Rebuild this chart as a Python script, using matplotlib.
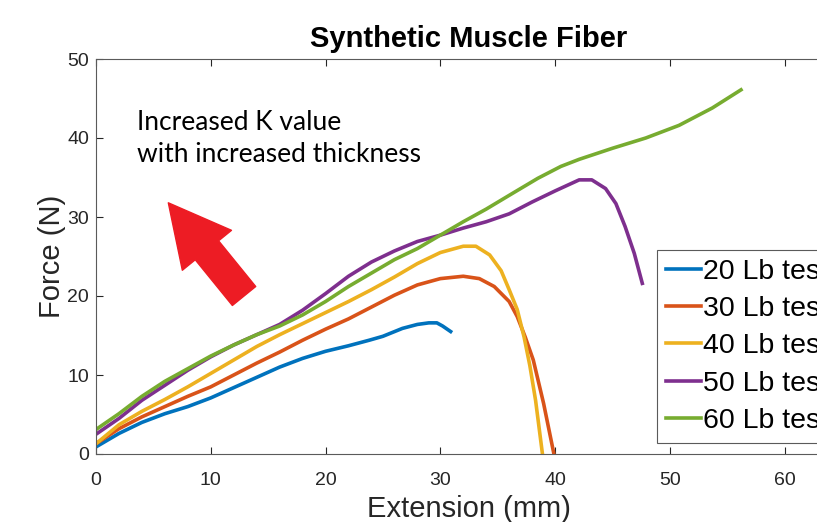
# Synthetic muscle fiber force / extension curves
import matplotlib.pyplot as plt
import numpy as np

# data (extension mm, force N)
x20 = [0, 2, 4, 6, 8, 10, 12, 14, 16, 18, 20, 22, 23.8, 25, 26.7, 28, 29, 29.7, 30.2, 30.9]
y20 = [0.9, 2.6, 4.0, 5.1, 6.0, 7.1, 8.4, 9.7, 11.0, 12.1, 13.0, 13.7, 14.4, 14.9, 15.9, 16.4, 16.6, 16.6, 16.2, 15.5]

x30 = [0, 2, 4, 6, 8, 10, 12, 14, 16, 18, 20, 22, 24, 26, 28, 30, 32, 33.4, 34.7,
       36.0, 36.7, 37.4, 38.1, 39.0, 39.9, 40.1]
y30 = [1.3, 3.2, 4.7, 6.0, 7.3, 8.5, 10.0, 11.5, 12.9, 14.4, 15.8, 17.1, 18.6, 20.1, 21.4, 22.2, 22.5, 22.2, 21.2,
       19.3, 17.4, 14.8, 11.9, 6.4, 0.0, -1.0]

x40 = [0, 2, 4, 6, 8, 10, 12, 14, 16, 18, 20, 22, 24, 26, 28, 30, 32, 33.1, 34.3,
       35.3, 36.0, 36.7, 37.3, 37.8, 38.3, 38.9, 39.0]
y40 = [1.3, 3.7, 5.4, 6.9, 8.5, 10.2, 11.9, 13.6, 15.1, 16.5, 17.9, 19.3, 20.8, 22.4, 24.1, 25.5, 26.3, 26.3, 25.2,
       23.2, 20.8, 18.3, 14.8, 11.2, 6.8, 0.0, -1.0]

x50 = [0, 2, 4, 6, 8, 10, 12, 14, 16, 18, 20, 22, 24, 26, 28, 30, 32, 34, 36, 38, 40,
       41.2, 42.1, 43.2, 44.4, 45.3, 46.1, 46.9, 47.6]
y50 = [2.5, 4.5, 6.8, 8.7, 10.6, 12.3, 13.8, 15.1, 16.4, 18.2, 20.3, 22.5, 24.3, 25.7, 26.9, 27.7, 28.6, 29.4, 30.4, 31.9, 33.3,
       34.1, 34.7, 34.7, 33.6, 31.7, 28.8, 25.4, 21.6]

x60 = [0, 2, 4, 6, 8, 10, 12, 14, 16, 18, 20, 22, 24, 26, 28, 30, 32, 34,
       36.3, 38.5, 40.5, 42.1, 45.0, 47.9, 50.8, 53.7, 56.2]
y60 = [3.1, 5.1, 7.3, 9.2, 10.8, 12.4, 13.8, 15.1, 16.2, 17.6, 19.3, 21.2, 22.9, 24.6, 26.0, 27.7, 29.4, 31.0,
       33.0, 34.9, 36.4, 37.3, 38.7, 40.0, 41.6, 43.8, 46.1]

labels = ["20 Lb test", "30 Lb test", "40 Lb test", "50 Lb test", "60 Lb test"]
colors = ["#0072BD", "#D95319", "#EDB120", "#7E2F8E", "#77AC30"]

plt.rcParams['font.family'] = ['Liberation Sans', 'DejaVu Sans']

fig = plt.figure(figsize=(8.17, 5.22), dpi=100)
# axes runs past the right edge of the picture like the cropped original
ax = fig.add_axes([96 / 817, 68 / 522, 746 / 817, 395 / 522])

series = [(x20, y20), (x30, y30), (x40, y40), (x50, y50), (x60, y60)]
for (xs, ys), lab, col in zip(series, labels, colors):
    ax.plot(xs, ys, color=col, lw=2.6, label=lab, solid_joinstyle='round')

ax.set_xlim(0, 65)
ax.set_ylim(0, 50)
ax.set_xticks(np.arange(0, 61, 10))
ax.set_yticks(np.arange(0, 51, 10))
ax.tick_params(direction='in', length=5, width=0.8, colors='#262626', labelsize=14,
               top=True, right=True)
ax.tick_params(axis='x', pad=13)
ax.tick_params(axis='y', pad=5)
for s in ax.spines.values():
    s.set_color('#5a5a5a')
    s.set_linewidth(0.8)

ax.set_title('Synthetic Muscle Fiber', fontsize=21, fontweight='bold', pad=9)
ax.set_xlabel('Extension (mm)', fontsize=21, color='#262626', labelpad=4)
ax.set_ylabel('Force (N)', fontsize=21, color='#262626', labelpad=1)

ax.text(3.57, 43.5, 'Increased K value\nwith increased thickness', fontsize=19,
        family=['Lato', 'DejaVu Sans'], linespacing=1.33, va='top', ha='left')

# red arrow pointing up-left
ax.annotate('', xy=(6.3, 31.8), xytext=(12.9, 20.0),
            arrowprops=dict(arrowstyle='simple,head_length=1.16,head_width=1.2,tail_width=0.57',
                            color='#ED1C24', mutation_scale=38, shrinkA=0, shrinkB=0))

leg = ax.legend(loc='upper left', bbox_to_anchor=(657 / 817, 1 - 250 / 522),
                bbox_transform=fig.transFigure, fontsize=20.5, fancybox=False,
                framealpha=1, edgecolor='#5a5a5a', handlelength=1.25, handletextpad=0.05,
                labelspacing=0.4, borderpad=0.3, borderaxespad=0)
leg.get_frame().set_linewidth(0.8)

fig.savefig('out.png', dpi=100)
